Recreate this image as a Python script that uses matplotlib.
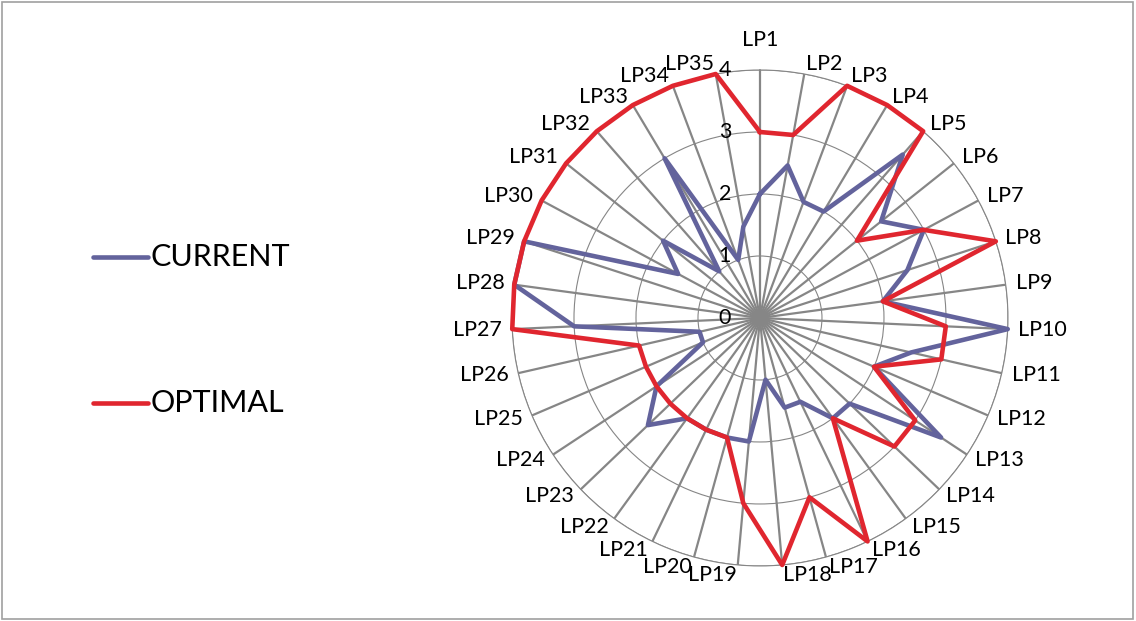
import numpy as np
from matplotlib import pyplot as plt
from matplotlib import transforms

plt.rcParams['font.family'] = ['Lato', 'DejaVu Sans']

# spoke names and the two series
labels = ['LP' + str(i) for i in range(1, 36)]
current = [2, 2.5, 2, 2, 3.5, 2.5, 3, 2.5, 2, 4,
           2.5, 2, 3.5, 2, 2, 1.5, 1.5, 1, 2, 2,
           2, 2, 2.5, 2, 1, 1, 3, 4, 4, 1.5,
           2, 1, 3, 1, 1.5]
optimal = [3, 3, 4, 4, 4, 2, 3, 4, 2, 3,
           3, 2, 3, 3, 2, 4, 3, 4, 3, 2,
           2, 2, 2, 2, 2, 2, 4, 4, 4, 4,
           4, 4, 4, 4, 4]
ring_values = [0, 1, 2, 3, 4]

blue = '#63639c'
red = '#e0262f'
grid_col = '#868686'

n = len(labels)
theta = np.arange(n) * 2 * np.pi / n
theta_closed = np.append(theta, theta[0])

fig = plt.figure(figsize=(11.36, 6.21), dpi=100)
ax = fig.add_axes([0.4507, 0.0886, 0.4366, 0.7987], projection='polar')
ax.set_theta_zero_location('N')
ax.set_theta_direction(-1)
ax.set_ylim(0, 4)

# spokes and rings
ax.set_xticks(theta)
ax.set_yticks(ring_values[1:])
ax.set_xticklabels([])
ax.set_yticklabels([])
ax.xaxis.grid(True, color=grid_col, linewidth=1.6)
ax.yaxis.grid(True, color=grid_col, linewidth=0.8)
ax.spines['polar'].set_color(grid_col)
ax.spines['polar'].set_linewidth(0.8)
ax.tick_params(length=0)

# lines left unclipped so the outer ring values keep full width
ax.plot(theta_closed, np.append(current, current[0]), color=blue, lw=3.3,
        solid_joinstyle='round', label='CURRENT', clip_on=False, zorder=3)
ax.plot(theta_closed, np.append(optimal, optimal[0]), color=red, lw=3.3,
        solid_joinstyle='round', label='OPTIMAL', clip_on=False, zorder=4)

# category labels round the outside
for t, lab in zip(theta, labels):
    s, c = np.sin(t), np.cos(t)
    if abs(s) < 0.05:
        ha = 'center'
        dx, dy = 0, 30 * c
    else:
        ha = 'left' if s > 0 else 'right'
        dx, dy = 10 * s, 10 * c
    tr = transforms.offset_copy(ax.transData, fig=fig, x=dx, y=dy, units='dots')
    ax.text(t, 4, lab, transform=tr, ha=ha, va='center', fontsize=15.5,
            clip_on=False)

# radial value labels left of the first spoke
tr = transforms.offset_copy(ax.transData, fig=fig, x=-35, y=0, units='dots')
for v in ring_values:
    ax.text(0, v, str(v), transform=tr, ha='center', va='center',
            fontsize=15.5, clip_on=False, zorder=5)

# legend drawn by hand on the left
for y, col, name in [(257, blue, 'CURRENT'), (403, red, 'OPTIMAL')]:
    yf = 1 - y / 621
    fig.add_artist(plt.Line2D([93 / 1136, 148 / 1136], [yf, yf], color=col,
                              lw=3.3, solid_capstyle='round'))
    fig.text(151 / 1136, yf, name, fontsize=22, va='center', ha='left')

# thin frame round the whole figure
fig.add_artist(plt.Rectangle((0.002, 0.004), 0.995, 0.992, fill=False,
                             edgecolor='#a0a0a0', lw=1.2,
                             transform=fig.transFigure))

fig.savefig('out.png', dpi=100)
